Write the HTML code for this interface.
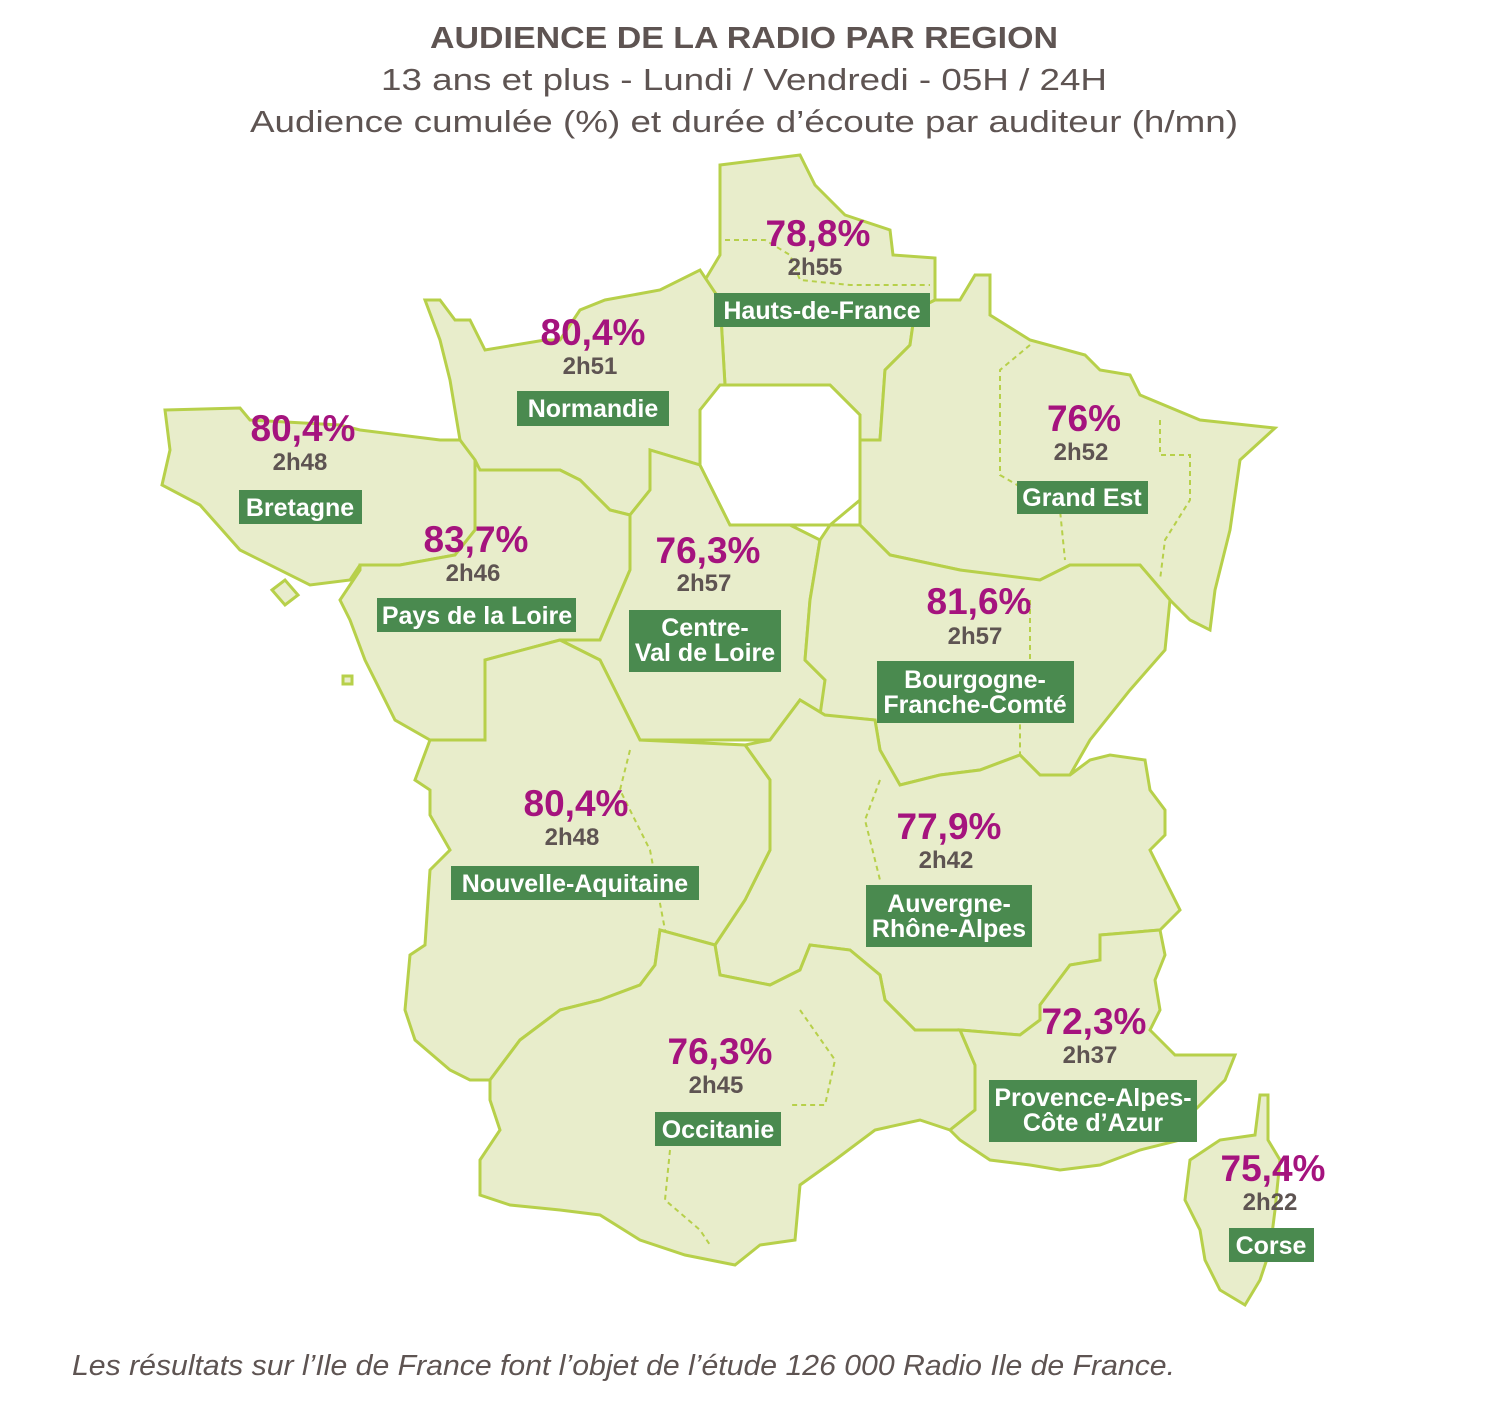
<!DOCTYPE html>
<html><head><meta charset="utf-8"><style>
html,body{margin:0;padding:0;background:#fff;}
svg{display:block;}
.pc{font-family:"Liberation Sans",sans-serif;font-weight:bold;font-size:37px;fill:#a5137e;text-anchor:middle;}
.tm{font-family:"Liberation Sans",sans-serif;font-weight:bold;font-size:24px;fill:#5e5452;text-anchor:middle;}
.lb{font-family:"Liberation Sans",sans-serif;font-weight:bold;font-size:25px;fill:#fff;text-anchor:middle;}
.bx{fill:#4a8a4f;}
.rg{fill:#e8edcb;stroke:#b7d04a;stroke-width:3;stroke-linejoin:miter;}
.dt{fill:none;stroke:#b7d04a;stroke-width:2;stroke-dasharray:5 4;}
</style></head><body>
<svg width="1508" height="1406" viewBox="0 0 1508 1406" xmlns="http://www.w3.org/2000/svg">
<text x="744" y="48" textLength="628" lengthAdjust="spacingAndGlyphs" text-anchor="middle" style="font-family:'Liberation Sans',sans-serif;font-weight:bold;font-size:31px;fill:#5e5452">AUDIENCE DE LA RADIO PAR REGION</text>
<text x="744" y="90" textLength="726" lengthAdjust="spacingAndGlyphs" text-anchor="middle" style="font-family:'Liberation Sans',sans-serif;font-size:31px;fill:#5e5452">13 ans et plus - Lundi / Vendredi - 05H / 24H</text>
<text x="744" y="132" textLength="988" lengthAdjust="spacingAndGlyphs" text-anchor="middle" style="font-family:'Liberation Sans',sans-serif;font-size:31px;fill:#5e5452">Audience cumulée (%) et durée d’écoute par auditeur (h/mn)</text>

<g>
<polygon class="rg" points="720,165 800,155 815,185 845,215 890,230 893,255 935,258 935,300 915,310 910,345 885,370 880,440 860,440 860,415 830,385 725,385 720,300 705,280 720,255"/>
<polygon class="rg" points="425,300 440,300 455,320 470,320 485,350 545,340 560,340 580,310 605,300 660,290 700,270 720,300 725,385 700,410 700,465 650,450 650,490 630,515 610,510 580,480 560,470 480,470 460,440 450,380 440,340"/>
<polygon class="rg" points="165,410 240,408 250,420 340,425 360,430 440,440 460,440 475,460 475,530 455,555 400,565 360,565 350,580 310,585 240,550 200,505 162,485 170,450"/>
<polygon class="rg" points="475,460 480,470 560,470 580,480 610,510 630,515 630,570 600,640 560,640 485,660 485,740 430,740 395,720 365,660 350,620 340,600 360,570 360,565 400,565 455,555 475,530"/>
<polygon class="rg" points="630,515 650,490 650,450 700,465 730,525 790,525 820,540 810,600 805,660 825,680 825,715 800,700 770,740 640,740 620,700 600,660 560,640 600,640 630,570"/>
<polygon class="rg" points="860,440 880,440 885,370 910,345 915,310 935,300 960,300 975,275 990,275 990,315 1030,340 1085,355 1100,370 1130,375 1140,395 1200,420 1275,428 1240,460 1230,530 1215,590 1210,630 1190,620 1170,600 1140,565 1070,565 1040,580 1010,585 960,570 890,555 860,525 860,500"/>
<polygon class="rg" points="820,540 830,525 860,525 890,555 960,570 1040,580 1070,565 1140,565 1170,600 1165,650 1130,690 1090,740 1070,775 1040,775 1020,755 980,770 940,775 900,785 880,750 875,720 820,715 825,680 805,660 810,600"/>
<polygon class="rg" points="770,740 800,700 825,715 875,720 880,750 900,785 940,775 980,770 1020,755 1040,775 1070,775 1090,760 1110,755 1145,760 1150,790 1165,810 1165,835 1150,850 1165,880 1180,910 1160,930 1100,935 1100,960 1070,965 1040,1005 1040,1020 1020,1035 960,1030 915,1030 885,1000 880,975 850,950 810,945 800,970 770,985 720,975 715,945 745,900 770,850 770,780 745,745"/>
<polygon class="rg" points="430,740 485,740 485,660 560,640 600,660 620,700 640,740 745,745 770,780 770,850 745,900 715,945 660,930 655,965 640,985 600,1000 560,1010 520,1040 490,1080 470,1080 450,1070 415,1040 405,1010 410,955 425,945 430,870 450,850 430,815 430,790 415,780"/>
<polygon class="rg" points="490,1080 520,1040 560,1010 600,1000 640,985 655,965 660,930 715,945 720,975 770,985 800,970 810,945 850,950 880,975 885,1000 915,1030 960,1030 975,1065 975,1110 950,1130 920,1120 875,1130 835,1160 800,1185 795,1240 760,1245 735,1265 685,1255 640,1240 600,1215 560,1210 510,1205 480,1195 480,1160 500,1130 490,1100"/>
<polygon class="rg" points="960,1030 1020,1035 1040,1020 1040,1005 1070,965 1100,960 1100,935 1160,930 1165,955 1155,980 1160,1010 1150,1030 1175,1055 1235,1055 1225,1080 1195,1110 1180,1140 1140,1150 1100,1165 1060,1170 1030,1165 990,1160 960,1140 950,1130 975,1110 975,1065"/>
<polygon class="rg" points="1260,1095 1268,1095 1268,1140 1280,1160 1275,1210 1270,1250 1260,1280 1245,1305 1220,1290 1205,1260 1200,1230 1185,1200 1190,1160 1220,1140 1255,1135"/>
<polygon class="rg" points="272,590 285,580 298,595 285,605"/>
<polygon class="rg" points="343,676 352,676 352,684 343,684"/>
<polyline class="dt" points="725,240 765,240 790,255 800,280 850,285 930,285"/>
<polyline class="dt" points="1030,345 1000,370 1000,475 1060,510 1065,560"/>
<polyline class="dt" points="1160,420 1160,455 1190,455 1190,500 1165,540 1160,580"/>
<polyline class="dt" points="1030,600 1030,690 1020,720 1020,755"/>
<polyline class="dt" points="630,750 620,790 650,850 665,930"/>
<polyline class="dt" points="880,780 865,820 880,880"/>
<polyline class="dt" points="800,1010 835,1060 825,1105 790,1105"/>
<polyline class="dt" points="670,1150 665,1200 700,1230 710,1245"/>
</g>

<polygon fill="#fff" points="700,410 720,385 830,385 860,415 860,500 830,525 730,525 700,465"/>
<polygon fill="none" stroke="#b7d04a" stroke-width="3" points="700,410 720,385 830,385 860,415 860,500 830,525 730,525 700,465"/>

<text class="pc" x="818" y="246">78,8%</text><text class="tm" x="815" y="275">2h55</text>
<rect class="bx" x="714" y="293" width="216" height="34"/><text class="lb" x="822" y="319">Hauts-de-France</text>

<text class="pc" x="593" y="345">80,4%</text><text class="tm" x="590" y="374">2h51</text>
<rect class="bx" x="517" y="391" width="152" height="35"/><text class="lb" x="593" y="417">Normandie</text>

<text class="pc" x="303" y="441">80,4%</text><text class="tm" x="300" y="470">2h48</text>
<rect class="bx" x="239" y="490" width="123" height="34"/><text class="lb" x="300" y="516">Bretagne</text>

<text class="pc" x="476" y="552">83,7%</text><text class="tm" x="473" y="581">2h46</text>
<rect class="bx" x="377" y="598" width="199" height="34"/><text class="lb" x="477" y="624">Pays de la Loire</text>

<text class="pc" x="708" y="563">76,3%</text><text class="tm" x="704" y="591">2h57</text>
<rect class="bx" x="629" y="610" width="152" height="62"/><text class="lb" x="705" y="636">Centre-</text><text class="lb" x="705" y="661">Val de Loire</text>

<text class="pc" x="1084" y="431">76%</text><text class="tm" x="1081" y="460">2h52</text>
<rect class="bx" x="1017" y="481" width="131" height="33"/><text class="lb" x="1082" y="506">Grand Est</text>

<text class="pc" x="979" y="614">81,6%</text><text class="tm" x="975" y="644">2h57</text>
<rect class="bx" x="877" y="661" width="197" height="62"/><text class="lb" x="975" y="688">Bourgogne-</text><text class="lb" x="975" y="713">Franche-Comté</text>

<text class="pc" x="576" y="816">80,4%</text><text class="tm" x="572" y="845">2h48</text>
<rect class="bx" x="451" y="866" width="248" height="34"/><text class="lb" x="575" y="892">Nouvelle-Aquitaine</text>

<text class="pc" x="949" y="839">77,9%</text><text class="tm" x="946" y="868">2h42</text>
<rect class="bx" x="866" y="885" width="166" height="62"/><text class="lb" x="949" y="912">Auvergne-</text><text class="lb" x="949" y="937">Rhône-Alpes</text>

<text class="pc" x="1094" y="1034">72,3%</text><text class="tm" x="1090" y="1063">2h37</text>
<rect class="bx" x="989" y="1080" width="208" height="62"/><text class="lb" x="1093" y="1106">Provence-Alpes-</text><text class="lb" x="1093" y="1131">Côte d’Azur</text>

<text class="pc" x="720" y="1064">76,3%</text><text class="tm" x="716" y="1093">2h45</text>
<rect class="bx" x="655" y="1112" width="126" height="34"/><text class="lb" x="718" y="1138">Occitanie</text>

<text class="pc" x="1273" y="1181">75,4%</text><text class="tm" x="1270" y="1210">2h22</text>
<rect class="bx" x="1229" y="1228" width="85" height="34"/><text class="lb" x="1271" y="1254">Corse</text>

<text x="72" y="1375" textLength="1103" lengthAdjust="spacingAndGlyphs" style="font-family:'Liberation Sans',sans-serif;font-style:italic;font-size:29px;fill:#5e5452">Les résultats sur l’Ile de France font l’objet de l’étude 126 000 Radio Ile de France.</text>
</svg>
</body></html>
